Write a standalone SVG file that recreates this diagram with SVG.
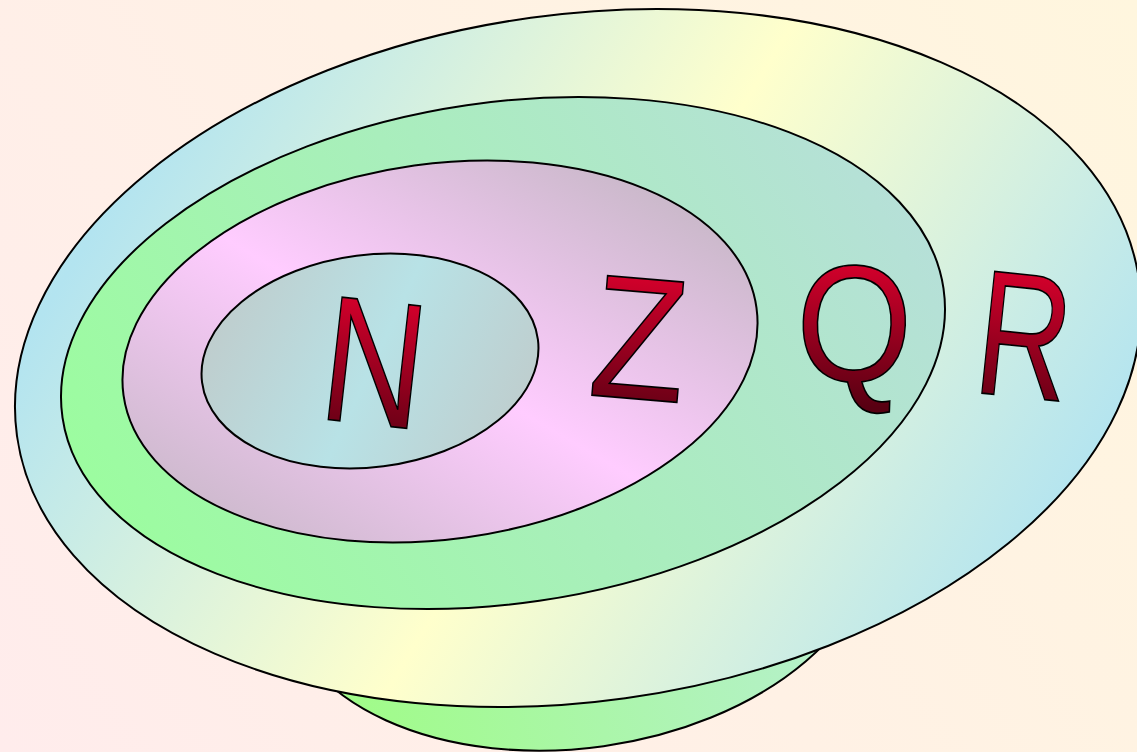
<svg xmlns="http://www.w3.org/2000/svg" width="1137" height="752" viewBox="0 0 1137 752">
<defs>
<linearGradient id="bg" gradientUnits="userSpaceOnUse" x1="0" y1="752" x2="1137" y2="0">
<stop offset="0" stop-color="#ffecec"/><stop offset="1" stop-color="#fff6de"/>
</linearGradient>
<linearGradient id="gBottom" gradientUnits="userSpaceOnUse" x1="330" y1="700" x2="820" y2="660">
<stop offset="0" stop-color="#a0fc88"/><stop offset="1" stop-color="#b6f0cc"/>
</linearGradient>
<linearGradient id="gR" gradientUnits="userSpaceOnUse" x1="585" y1="365" x2="965" y2="675" spreadMethod="reflect">
<stop offset="0" stop-color="#ffffcc"/><stop offset="1" stop-color="#b3e4f0"/>
</linearGradient>
<linearGradient id="gQ" gradientUnits="userSpaceOnUse" x1="120" y1="520" x2="900" y2="200">
<stop offset="0" stop-color="#9cfca0"/><stop offset="1" stop-color="#b6e0d8"/>
</linearGradient>
<linearGradient id="gZ" gradientUnits="userSpaceOnUse" x1="420" y1="350" x2="579" y2="148" spreadMethod="reflect">
<stop offset="0" stop-color="#ffccff"/><stop offset="1" stop-color="#cbb9cb"/>
</linearGradient>
<linearGradient id="gN" gradientUnits="userSpaceOnUse" x1="370" y1="368" x2="513" y2="459" spreadMethod="reflect">
<stop offset="0" stop-color="#b8e2e6"/><stop offset="1" stop-color="#bfcccc"/>
</linearGradient>
<linearGradient id="gLetter" x1="0" y1="0" x2="0" y2="1">
<stop offset="0.15" stop-color="#d8002c"/><stop offset="0.95" stop-color="#580012"/>
</linearGradient>
</defs>
<style>
.set{stroke:#000;stroke-width:2}
.lbl{font-family:"Liberation Sans",Arial,sans-serif;fill:url(#gLetter);stroke:#000;stroke-width:1.7;text-anchor:middle}
</style>
<rect width="1137" height="752" fill="url(#bg)"/>
<g id="bottom-shape">
<ellipse class="set" cx="577" cy="557" rx="300" ry="191" transform="rotate(-8 577 557)" fill="url(#gBottom)"/>
</g>
<g id="set-R">
<ellipse class="set" cx="578" cy="358" rx="566.4" ry="343.5" transform="rotate(-7.9 578 358)" fill="url(#gR)"/>
</g>
<g id="set-Q">
<ellipse class="set" cx="503" cy="353" rx="445.2" ry="250.4" transform="rotate(-8.34 503 353)" fill="url(#gQ)"/>
</g>
<g id="set-Z">
<ellipse class="set" cx="440" cy="351.5" rx="319.5" ry="187.7" transform="rotate(-7.86 440 351.5)" fill="url(#gZ)"/>
</g>
<g id="set-N">
<ellipse class="set" cx="370" cy="361" rx="169.3" ry="106.2" transform="rotate(-7.29 370 361)" fill="url(#gN)"/>
</g>
<g id="labels">
<text class="lbl" font-size="179" transform="translate(367.5 424) rotate(6.4) scale(0.79 1)">N</text>
<text class="lbl" font-size="175" transform="translate(634.4 398.8) rotate(4.85) scale(0.89 1)">Z</text>
<text class="lbl" font-size="166" transform="translate(852.4 381) rotate(2) scale(0.9 1)">Q</text>
<text class="lbl" font-size="178" transform="translate(1018 397) rotate(6) scale(0.73 1)">R</text>
</g>
</svg>
